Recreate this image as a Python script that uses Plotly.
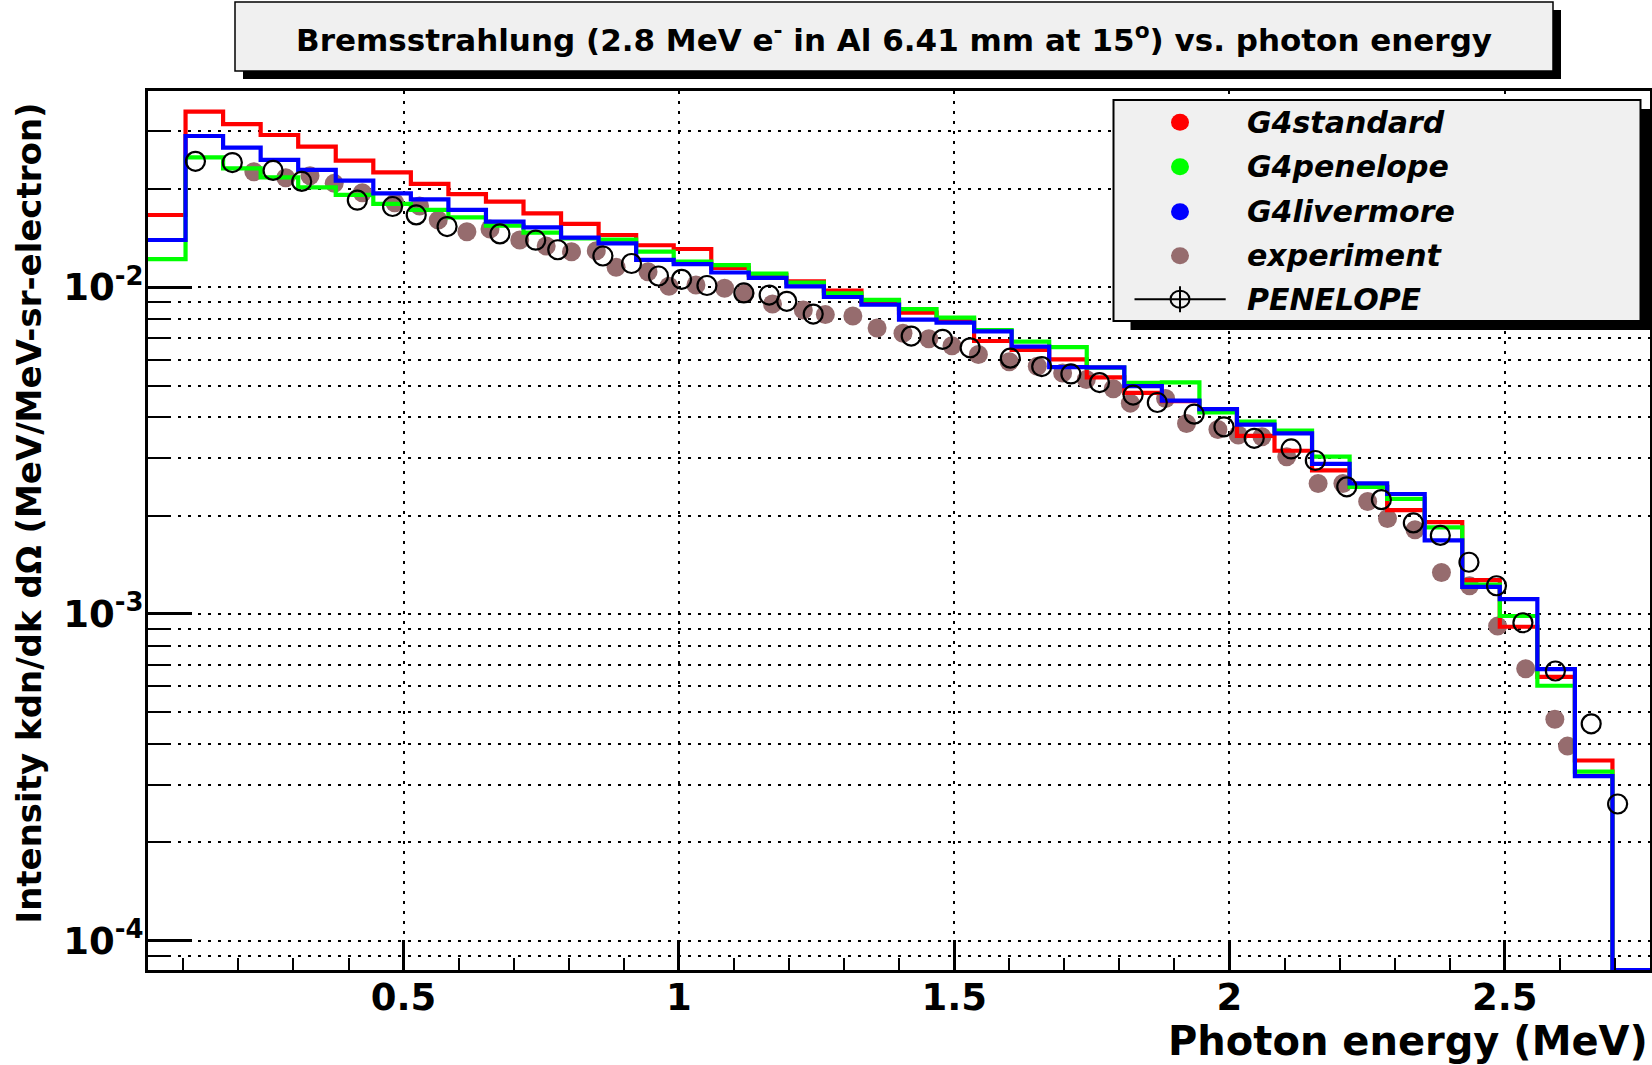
import math
import plotly.graph_objects as go

# ---------------- data ----------------
bin_lo = 0.0358
bin_width = 0.0682
n_bins = 40
edges = [bin_lo + bin_width * i for i in range(n_bins + 1)]

g4standard = [0.01665, 0.0345, 0.0316, 0.02926, 0.02696, 0.02442, 0.02249, 0.02072, 0.0193, 0.01829,
              0.01685, 0.01563, 0.01446, 0.01345, 0.0131, 0.01147, 0.0109, 0.01043, 0.00977, 0.00902,
              0.00837, 0.00796, 0.00685, 0.00643, 0.00602, 0.0053, 0.00475, 0.00448, 0.0042, 0.00351,
              0.00316, 0.00275, 0.00245, 0.00208, 0.00191, 0.00127, 0.000914, 0.000642, 0.000356, 0.0]
g4penelope = [0.0122, 0.025, 0.02314, 0.0217, 0.02024, 0.01918, 0.018, 0.01725, 0.01638, 0.01544,
              0.0147, 0.01413, 0.014, 0.01286, 0.01198, 0.0117, 0.01101, 0.01033, 0.00958, 0.00915,
              0.00857, 0.00808, 0.0074, 0.00682, 0.00656, 0.00568, 0.0051, 0.00512, 0.00414, 0.00388,
              0.00364, 0.00303, 0.00245, 0.00225, 0.00184, 0.00123, 0.000986, 0.000603, 0.000329, 0.0]
g4livermore = [0.01396, 0.02906, 0.02677, 0.02454, 0.02287, 0.0212, 0.0194, 0.0186, 0.01725, 0.01589,
               0.01526, 0.01419, 0.01364, 0.01213, 0.01178, 0.0111, 0.01069, 0.01007, 0.00934, 0.00885,
               0.00796, 0.0078, 0.00733, 0.00658, 0.0057, 0.00569, 0.00498, 0.0045, 0.00424, 0.0038,
               0.00357, 0.00288, 0.00251, 0.00233, 0.00168, 0.00121, 0.00111, 0.000678, 0.000319, 0.0]

exp_energy = [0.228, 0.286, 0.330, 0.374, 0.425, 0.484, 0.529, 0.563, 0.615, 0.657, 0.711, 0.759, 0.805,
              0.850, 0.886, 0.944, 0.982, 1.031, 1.083, 1.120, 1.170, 1.226, 1.266, 1.316, 1.360, 1.407,
              1.454, 1.496, 1.544, 1.600, 1.651, 1.697, 1.740, 1.789, 1.820, 1.884, 1.922, 1.979, 2.016,
              2.059, 2.104, 2.161, 2.206, 2.251, 2.287, 2.337, 2.385, 2.436, 2.487, 2.538, 2.591, 2.614]
exp_intensity = [0.02258, 0.02165, 0.02196, 0.02081, 0.01948, 0.01815, 0.01773, 0.01606, 0.0148, 0.01508,
                 0.01395, 0.01338, 0.01285, 0.01294, 0.01151, 0.01116, 0.01007, 0.01016, 0.00993, 0.00958,
                 0.00889, 0.00852, 0.00825, 0.00817, 0.00751, 0.00723, 0.00696, 0.00662, 0.00623, 0.00592,
                 0.00573, 0.00547, 0.00522, 0.00489, 0.00442, 0.00457, 0.00383, 0.00367, 0.00353, 0.00349,
                 0.00303, 0.00251, 0.00251, 0.00221, 0.00196, 0.00181, 0.00134, 0.00122, 0.000918, 0.00068,
                 0.000476, 0.000394]

pen_energy = [0.122, 0.189, 0.263, 0.315, 0.416, 0.480, 0.523, 0.579, 0.675, 0.740, 0.780, 0.862, 0.914,
              0.963, 1.005, 1.051, 1.118, 1.164, 1.196, 1.244, 1.422, 1.479, 1.529, 1.602, 1.659, 1.712,
              1.764, 1.825, 1.869, 1.936, 1.990, 2.045, 2.112, 2.156, 2.213, 2.276, 2.334, 2.383, 2.435,
              2.485, 2.533, 2.592, 2.657, 2.705]
pen_intensity = [0.0243, 0.0241, 0.0228, 0.0211, 0.01848, 0.01768, 0.01666, 0.01535, 0.01457, 0.01394,
                 0.01303, 0.01247, 0.01183, 0.01083, 0.01058, 0.01013, 0.00961, 0.00947, 0.00906, 0.00828,
                 0.00709, 0.00693, 0.00653, 0.00607, 0.00572, 0.00543, 0.00511, 0.00468, 0.00444, 0.00409,
                 0.00374, 0.00345, 0.0032, 0.00295, 0.00245, 0.00224, 0.0019, 0.00174, 0.00144, 0.00122,
                 0.00094, 0.000669, 0.000461, 0.000262]

x_tick_vals = [0.5, 1.0, 1.5, 2.0, 2.5]
x_tick_text = ["0.5", "1", "1.5", "2", "2.5"]
y_tick_vals = [1e-4, 1e-3, 1e-2]
y_tick_text = ["10<sup>-4</sup>", "10<sup>-3</sup>", "10<sup>-2</sup>"]

title_text = "Bremsstrahlung (2.8 MeV e<sup>-</sup> in Al 6.41 mm at 15<sup>o</sup>) vs. photon energy"
x_title = "Photon energy (MeV)"
y_title = "Intensity kdn/dk d\u03a9 (MeV/MeV-sr-electron)"

legend_names = ["G4standard", "G4penelope", "G4livermore", "experiment", "PENELOPE"]
hist_colors = ["#ff0000", "#00ff00", "#0000ff"]
exp_color = "rgb(150,108,110)"

# ---------------- layout geometry ----------------
W, H = 1652, 1065
ML, MR, MT, MB = 148, 2, 91, 95
PW, PH = W - ML - MR, H - MT - MB
y_log_range = [-4.0899, -1.399]
y_floor = 10 ** y_log_range[0]
FONT = "DejaVu Sans, Liberation Sans, Arial, sans-serif"


def px_x(x):
    return (x - ML) / PW


def px_y(y):
    return (H - MB - y) / PH


fig = go.Figure()

# experiment points
fig.add_trace(go.Scatter(x=exp_energy, y=exp_intensity, mode="markers", name="experiment",
                         marker=dict(symbol="circle", size=19, color=exp_color), showlegend=False))

# histograms (steps)
for name, vals, col in zip(legend_names[:3], [g4standard, g4penelope, g4livermore], hist_colors):
    yv = [v if v > 0 else y_floor for v in vals]
    fig.add_trace(go.Scatter(x=edges, y=yv + [yv[-1]], mode="lines", name=name,
                             line=dict(color=col, width=4.2, shape="hv"), showlegend=False))

# PENELOPE
fig.add_trace(go.Scatter(x=pen_energy, y=pen_intensity, mode="markers", name="PENELOPE",
                         marker=dict(symbol="circle-open", size=19, color="black",
                                     line=dict(width=2.2, color="black")), showlegend=False))

shapes = []
annotations = []

# title box with shadow
tb = (235, 2, 1553, 71)
shapes.append(dict(type="rect", xref="paper", yref="paper",
                   x0=px_x(tb[0] + 8), x1=px_x(tb[2] + 8), y0=px_y(tb[1] + 8), y1=px_y(tb[3] + 8),
                   fillcolor="black", line=dict(width=0), layer="above"))
shapes.append(dict(type="rect", xref="paper", yref="paper",
                   x0=px_x(tb[0]), x1=px_x(tb[2]), y0=px_y(tb[1]), y1=px_y(tb[3]),
                   fillcolor="#f0f0f0", line=dict(color="black", width=1.5), layer="above"))
annotations.append(dict(xref="paper", yref="paper", x=px_x((tb[0] + tb[2]) / 2), y=px_y(38),
                        text=title_text, showarrow=False, xanchor="center", yanchor="middle",
                        font=dict(family=FONT, size=31, color="black", weight="bold")))

# legend box with shadow
lb = (1113.5, 100, 1640.5, 321)
shapes.append(dict(type="rect", xref="paper", yref="paper",
                   x0=px_x(lb[0] + 17), x1=px_x(lb[2] + 17), y0=px_y(lb[1] + 9), y1=px_y(lb[3] + 9),
                   fillcolor="black", line=dict(width=0), layer="above"))
shapes.append(dict(type="rect", xref="paper", yref="paper",
                   x0=px_x(lb[0]), x1=px_x(lb[2]), y0=px_y(lb[1]), y1=px_y(lb[3]),
                   fillcolor="#f0f0f0", line=dict(color="black", width=2), layer="above"))
row_y = [122.3, 166.7, 211.7, 255.7, 299.3]
mk_x = 1180
marker_cols = hist_colors + [exp_color]
for i, name in enumerate(legend_names):
    yc = row_y[i]
    if i < 4:
        shapes.append(dict(type="circle", xref="paper", yref="paper",
                           x0=px_x(mk_x - 9), x1=px_x(mk_x + 9), y0=px_y(yc - 8.5), y1=px_y(yc + 8.5),
                           fillcolor=marker_cols[i], line=dict(width=0), layer="above"))
    else:
        shapes.append(dict(type="line", xref="paper", yref="paper",
                           x0=px_x(1134.5), x1=px_x(1225.7), y0=px_y(yc), y1=px_y(yc),
                           line=dict(color="black", width=2), layer="above"))
        shapes.append(dict(type="line", xref="paper", yref="paper",
                           x0=px_x(mk_x), x1=px_x(mk_x), y0=px_y(yc - 13), y1=px_y(yc + 13),
                           line=dict(color="black", width=2), layer="above"))
        shapes.append(dict(type="circle", xref="paper", yref="paper",
                           x0=px_x(mk_x - 9.5), x1=px_x(mk_x + 9.5), y0=px_y(yc - 8.5), y1=px_y(yc + 8.5),
                           line=dict(color="black", width=2), layer="above"))
    annotations.append(dict(xref="paper", yref="paper", x=px_x(1245), y=px_y(yc), text=name,
                            showarrow=False, xanchor="left", yanchor="middle",
                            font=dict(family=FONT, size=30, color="black", weight="bold", style="italic")))

# axis titles (ROOT style: aligned to the axis end)
annotations.append(dict(xref="paper", yref="paper", x=px_x(1650), y=px_y(1041), text=x_title,
                        showarrow=False, xanchor="right", yanchor="middle",
                        font=dict(family=FONT, size=40, color="black", weight="bold")))
annotations.append(dict(xref="paper", yref="paper", x=px_x(28), y=px_y(101), text=y_title,
                        textangle=-90, showarrow=False, xanchor="center", yanchor="top",
                        font=dict(family=FONT, size=34, color="black", weight="bold")))

minor_y = [k * 10 ** e for e in (-5, -4, -3, -2) for k in range(2, 10)]
minor_y = [v for v in minor_y if y_log_range[0] < math.log10(v) < y_log_range[1]]

grid_dash = "3px,7px"
fig.update_layout(
    width=W, height=H,
    margin=dict(l=ML, r=MR, t=MT, b=MB, autoexpand=False),
    paper_bgcolor="white", plot_bgcolor="white",
    showlegend=False,
    shapes=shapes, annotations=annotations,
    font=dict(family=FONT, color="black"),
    xaxis=dict(range=[edges[0], edges[-1]], tickmode="array", tickvals=x_tick_vals, ticktext=x_tick_text,
               ticks="inside", ticklen=30, tickwidth=2.5, tickcolor="black",
               showline=True, linecolor="black", linewidth=3, mirror=True,
               showgrid=True, gridcolor="black", gridwidth=2.2, griddash=grid_dash,
               zeroline=False, ticklabelstandoff=-7,
               tickfont=dict(family=FONT, size=37, color="black", weight="bold"),
               minor=dict(dtick=0.1, tick0=0, ticks="inside", ticklen=12, tickwidth=2, tickcolor="black",
                          showgrid=False)),
    yaxis=dict(type="log", range=y_log_range, tickmode="array", tickvals=y_tick_vals, ticktext=y_tick_text,
               ticks="inside", ticklen=44, tickwidth=2.5, tickcolor="black",
               showline=True, linecolor="black", linewidth=3, mirror=True,
               showgrid=True, gridcolor="black", gridwidth=2.2, griddash=grid_dash,
               zeroline=False, ticklabelstandoff=-6,
               tickfont=dict(family=FONT, size=37, color="black", weight="bold"),
               minor=dict(tickmode="array", tickvals=minor_y, ticks="inside", ticklen=22, tickwidth=2,
                          tickcolor="black", showgrid=True, gridcolor="black", gridwidth=2.2,
                          griddash=grid_dash)),
)

fig.write_html("out.html", config={"displayModeBar": False},
               post_script="document.body.style.margin='0px';document.body.style.overflow='hidden';")
